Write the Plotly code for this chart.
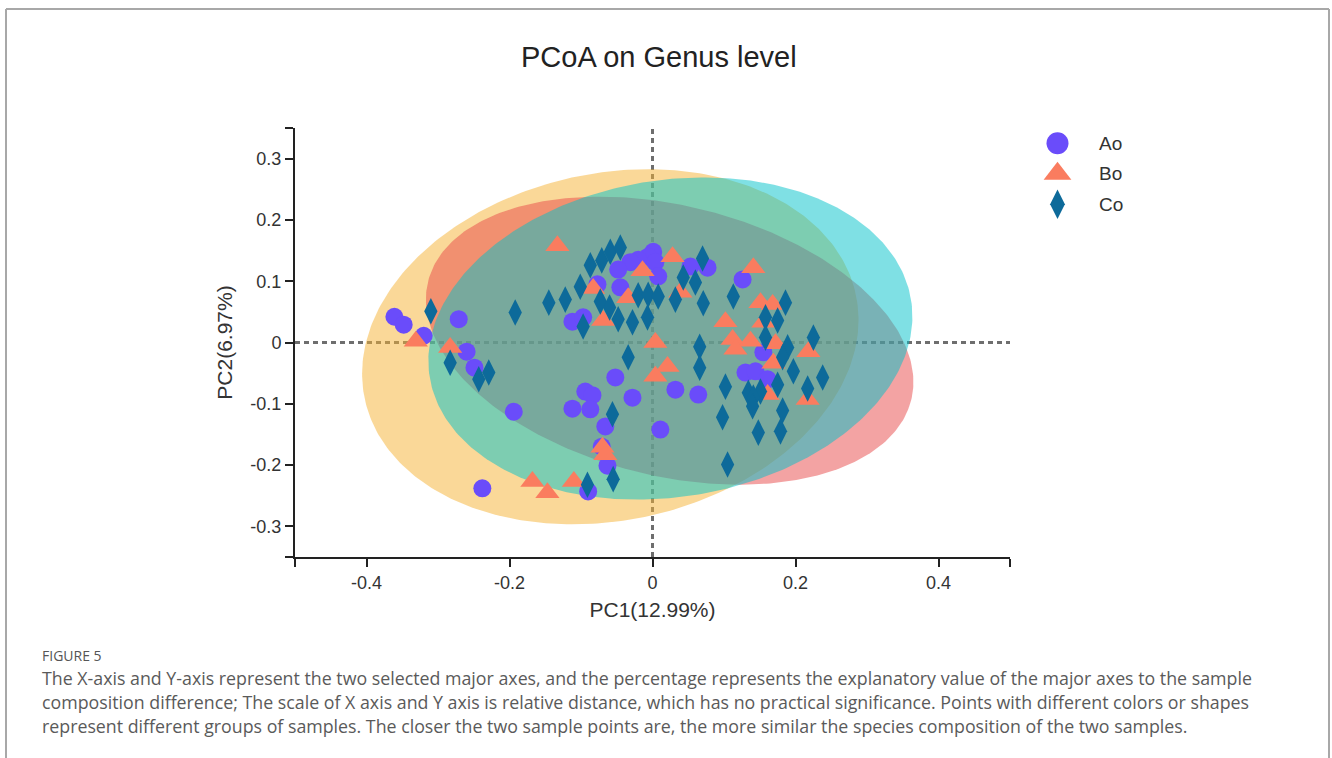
import numpy as np
import plotly.graph_objects as go

# ---- PCoA sample scores (PC1, PC2) per group ----
ao_pc1 = [-0.361, -0.348, -0.320, -0.271, -0.260, -0.249, -0.194, -0.238,
          -0.112, -0.097, -0.094, -0.084, -0.112, -0.087, -0.052, -0.028,
          0.032, 0.064, 0.011, -0.066, -0.071, -0.063, -0.090,
          0.001, -0.006, 0.004, 0.008, -0.020, -0.031, -0.048, -0.045,
          -0.077, 0.053, 0.077, 0.126, 0.130, 0.144, 0.161, 0.155]
ao_pc2 = [0.042, 0.029, 0.011, 0.038, -0.015, -0.041, -0.113, -0.238,
          0.034, 0.041, -0.080, -0.086, -0.108, -0.109, -0.057, -0.090,
          -0.077, -0.085, -0.142, -0.137, -0.170, -0.201, -0.243,
          0.148, 0.140, 0.131, 0.108, 0.135, 0.131, 0.119, 0.090,
          0.095, 0.124, 0.122, 0.103, -0.049, -0.047, -0.060, -0.016]

bo_pc1 = [-0.133, -0.331, -0.283, -0.014, 0.028, -0.083, -0.034, -0.069,
          0.039, 0.004, 0.021, 0.004, -0.070, -0.066, -0.168, -0.147,
          -0.110, 0.141, 0.151, 0.168, 0.102, 0.155, 0.112, 0.137,
          0.172, 0.169, 0.218, 0.217, 0.161, 0.116]
bo_pc2 = [0.158, 0.002, -0.008, 0.117, 0.140, 0.088, 0.073, 0.036,
          0.082, 0.000, -0.039, -0.055, -0.171, -0.183, -0.227, -0.245,
          -0.227, 0.122, 0.065, 0.062, 0.034, 0.033, 0.005, 0.002,
          -0.002, -0.034, -0.015, -0.093, -0.085, -0.011]

co_pc1 = [-0.310, -0.192, -0.145, -0.122, -0.101, -0.087, -0.071, -0.059,
          -0.045, -0.097, -0.073, -0.060, -0.048, -0.028, -0.007, -0.020,
          -0.006, 0.008, 0.032, 0.043, 0.060, 0.070, 0.071, 0.113,
          -0.034, -0.283, -0.243, -0.229, -0.056, -0.091, -0.055,
          0.186, 0.225, 0.158, 0.175, 0.158, 0.189, 0.182, 0.197,
          0.238, 0.217, 0.175, 0.151, 0.134, 0.102, 0.066, 0.066,
          0.098, 0.141, 0.140, 0.182, 0.148, 0.179, 0.105]
co_pc2 = [0.051, 0.049, 0.065, 0.070, 0.091, 0.126, 0.134, 0.148,
          0.155, 0.026, 0.067, 0.057, 0.038, 0.033, 0.041, 0.077,
          0.078, 0.075, 0.070, 0.106, 0.098, 0.137, 0.064, 0.075,
          -0.024, -0.033, -0.060, -0.049, -0.117, -0.232, -0.223,
          0.065, 0.008, 0.041, 0.036, 0.008, -0.008, -0.024, -0.047,
          -0.057, -0.075, -0.069, -0.080, -0.082, -0.072, -0.007, -0.041,
          -0.122, -0.090, -0.104, -0.111, -0.147, -0.145, -0.199]

groups = ["Ao", "Bo", "Co"]
marker_colors = ["#6a4cfa", "#fa7c5f", "#0d6a9a"]
marker_symbols = ["circle", "triangle-up", "diamond-tall"]
marker_sizes = [18, 21, 19]
legend_sizes = [22, 24, 21]
ellipse_fills = ["rgba(245,177,49,0.5)", "rgba(231,71,71,0.5)", "rgba(0,193,201,0.5)"]

# group confidence ellipses: centre, semi-axes and rotation (degrees)
ell_cx = [-0.059, 0.024, 0.025]
ell_cy = [-0.007, 0.003, 0.0065]
ell_a = [0.355, 0.352, 0.343]
ell_b = [0.280, 0.218, 0.257]
ell_angle = [19.9, -18.5, 14.1]

x_tickvals = [-0.5, -0.4, -0.2, 0, 0.2, 0.4, 0.5]
x_ticktext = ["", "-0.4", "-0.2", "0", "0.2", "0.4", ""]
y_tickvals = [-0.35, -0.3, -0.2, -0.1, 0, 0.1, 0.2, 0.3, 0.35]
y_ticktext = ["", "-0.3", "-0.2", "-0.1", "0", "0.1", "0.2", "0.3", ""]

caption_head = "FIGURE 5"
caption_lines = [
    "The X-axis and Y-axis represent the two selected major axes, and the percentage represents the explanatory value of the major axes to the sample",
    "composition difference; The scale of X axis and Y axis is relative distance, which has no practical significance. Points with different colors or shapes",
    "represent different groups of samples. The closer the two sample points are, the more similar the species composition of the two samples.",
]

# ---- page geometry (pixels) ----
W, H = 1332, 758
ML, MR, MT, MB = 295, 30, 128, 201
PW = W - ML - MR
PH = H - MT - MB


def px(x):
    return (x - ML) / PW


def py(y):
    return (H - MB - y) / PH


fig = go.Figure()

# ellipses
t = np.linspace(0, 2 * np.pi, 361)
for i, g in enumerate(groups):
    th = np.deg2rad(ell_angle[i])
    ex = ell_cx[i] + ell_a[i] * np.cos(t) * np.cos(th) - ell_b[i] * np.sin(t) * np.sin(th)
    ey = ell_cy[i] + ell_a[i] * np.cos(t) * np.sin(th) + ell_b[i] * np.sin(t) * np.cos(th)
    fig.add_trace(go.Scatter(x=ex, y=ey, mode="lines", fill="toself",
                             fillcolor=ellipse_fills[i], line=dict(width=0),
                             hoverinfo="skip", showlegend=False))

# sample points
pts = [(ao_pc1, ao_pc2), (bo_pc1, bo_pc2), (co_pc1, co_pc2)]
for i, g in enumerate(groups):
    fig.add_trace(go.Scatter(x=pts[i][0], y=pts[i][1], mode="markers", name=g,
                             marker=dict(symbol=marker_symbols[i], size=marker_sizes[i],
                                         color=marker_colors[i], line=dict(width=0)),
                             showlegend=False))

# legend keys on their own small axis
for i, g in enumerate(groups):
    fig.add_trace(go.Scatter(x=[0.5], y=[i + 1], mode="markers", xaxis="x2", yaxis="y2",
                             marker=dict(symbol=marker_symbols[i], size=legend_sizes[i],
                                         color=marker_colors[i], line=dict(width=0)),
                             hoverinfo="skip", showlegend=False))

axis_font = dict(family="Liberation Sans, Arial, sans-serif", size=18, color="#333333")
title_font = dict(family="Liberation Sans, Arial, sans-serif", size=21, color="#333333")

fig.update_layout(
    width=W, height=H,
    margin=dict(l=ML, r=MR, t=MT, b=MB),
    paper_bgcolor="white", plot_bgcolor="white",
    showlegend=False,
    xaxis=dict(domain=[0, 715 / PW], range=[-0.5, 0.5], tickvals=x_tickvals, ticktext=x_ticktext,
               showgrid=False, zeroline=False, showline=True, linecolor="#222222", linewidth=2,
               ticks="outside", ticklen=8, tickwidth=2, tickcolor="#222222",
               tickfont=axis_font,
               title=dict(text="PC1(12.99%)", font=title_font, standoff=11)),
    yaxis=dict(domain=[0, 1], range=[-0.35, 0.35], tickvals=y_tickvals, ticktext=y_ticktext,
               showgrid=False, zeroline=False, showline=True, linecolor="#222222", linewidth=2,
               ticks="outside", ticklen=8, tickwidth=2, tickcolor="#222222",
               tickfont=axis_font,
               title=dict(text="PC2(6.97%)", font=title_font, standoff=12)),
    xaxis2=dict(domain=[px(1040), px(1075)], range=[0, 1], visible=False, anchor="y2"),
    yaxis2=dict(domain=[py(219.5), 1], range=[3.5, 0.5], visible=False, anchor="x2"),
)

# dashed zero reference lines
dash_line = dict(color="#6e6e6e", width=3, dash="5px,4px")
fig.add_shape(type="line", xref="x", yref="paper", x0=0, x1=0, y0=0, y1=1,
              line=dash_line, layer="below")
fig.add_shape(type="line", xref="x", yref="y", x0=-0.5, x1=0.5, y0=0, y1=0,
              line=dash_line, layer="below")

# outer frame
frame = dict(color="#a8a8a8", width=2)
fx0, fx1, fy0, fy1 = px(6), px(1329), py(770), py(9)
fig.add_shape(type="line", xref="paper", yref="paper", x0=fx0, x1=fx1, y0=fy1, y1=fy1, line=frame)
fig.add_shape(type="line", xref="paper", yref="paper", x0=fx0, x1=fx0, y0=fy0, y1=fy1, line=frame)
fig.add_shape(type="line", xref="paper", yref="paper", x0=fx1, x1=fx1, y0=fy0, y1=fy1, line=frame)

# chart title
fig.add_annotation(text="PCoA on Genus level", xref="paper", yref="paper",
                   x=px(659), y=py(57), xanchor="center", yanchor="middle", showarrow=False,
                   font=dict(family="Liberation Sans, Arial, sans-serif", size=29, color="#222222"))

# legend labels
for i, g in enumerate(groups):
    fig.add_annotation(text=g, xref="paper", yref="y2", x=px(1097), y=i + 1,
                       xanchor="left", yanchor="middle", showarrow=False,
                       font=dict(family="Liberation Sans, Arial, sans-serif", size=19, color="#333333"))

# figure caption
fig.add_annotation(text=caption_head, xref="paper", yref="paper", x=px(40), y=py(655),
                   xanchor="left", yanchor="middle", showarrow=False,
                   font=dict(family="Open Sans, sans-serif", size=14, color="#555555"))
for k, line in enumerate(caption_lines):
    fig.add_annotation(text=line, xref="paper", yref="paper", x=px(40), y=py(678 + 24 * k),
                       xanchor="left", yanchor="middle", showarrow=False,
                       font=dict(family="Open Sans, sans-serif", size=17.8, color="#5a5a5a"))

fig.write_html("out.html")
